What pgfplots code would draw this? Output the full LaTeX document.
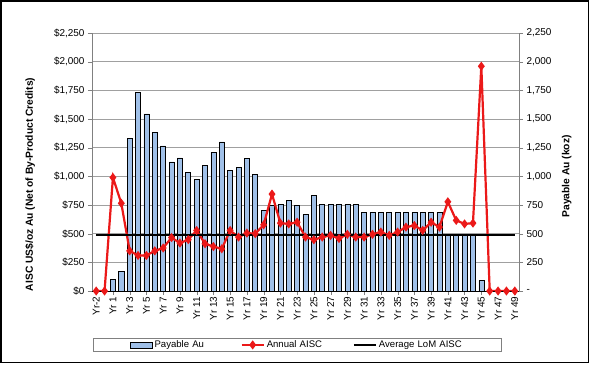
\documentclass[border=0pt]{standalone}
\usepackage{pgfplots}
\pgfplotsset{compat=1.18}
\usepackage{fontspec}
\setmainfont{Liberation Sans}
\definecolor{barblue}{RGB}{160,192,232}
\definecolor{aiscred}{RGB}{235,25,25}
\definecolor{gridgray}{RGB}{160,160,160}
\definecolor{axgray}{RGB}{128,128,128}
\pgfplotsset{
  markleg/.style={legend image code/.code={\draw[##1, mark repeat=2, mark phase=2] plot coordinates {(0bp,0bp) (11bp,0bp) (22bp,0bp)};}},
  lineleg/.style={legend image code/.code={\draw[##1] (0bp,0bp) -- (22bp,0bp);}},
  barleg/.style={legend image code/.code={\draw[fill=barblue, draw=black, line width=0.8bp] (0bp,-3bp) rectangle (22bp,3bp);}},
}
\begin{document}
\begin{tikzpicture}
\path[use as bounding box] (0bp,0bp) rectangle (591bp,366bp);
\draw[line width=1.6bp] (1bp,3.5bp) rectangle (588.5bp,365bp);
% ---- bars on right axis ----
\begin{axis}[
  at={(92bp,75bp)}, anchor=south west,
  width=427bp, height=258bp, scale only axis,
  xmin=-0.5, xmax=50.5, ymin=0, ymax=2250,
  axis x line=none,
  axis y line*=right,
  ytick={0,250,...,2250},
  yticklabels={-,250,500,750,{1,000},{1,250},{1,500},{1,750},{2,000},{2,250}},
  ymajorgrids, grid style={gridgray, line width=0.5bp},
  tick align=outside, major tick length=4bp,
  y axis line style={axgray, line width=0.6bp}, ytick style={axgray},
  /pgf/number format/assume math mode=true,
  tick label style={font=\fontsize{10}{11}\selectfont},
  ylabel={\bfseries Payable Au (koz)},
  ylabel style={at={(axis description cs:1.112,0.444)}, anchor=center, font=\fontsize{10.3}{12}\selectfont},
]
\addplot[ybar, bar width=0.6, fill=barblue, draw=black, line width=0.6bp] coordinates {
(2,100) (3,170) (4,1330) (5,1730) (6,1545) (7,1380) (8,1265) (9,1125) (10,1160)
(11,1035) (12,975) (13,1093) (14,1212) (15,1300) (16,1053) (17,1078) (18,1153)
(19,1015) (20,703) (21,745) (22,755) (23,790) (24,748) (25,667) (26,835)
(27,758) (28,758) (29,758) (30,758) (31,758)
(32,685) (33,685) (34,685) (35,685) (36,685) (37,685) (38,685) (39,685) (40,685) (41,685)
(42,493) (43,493) (44,493) (45,493) (46,90)
};
\end{axis}
% ---- lines on left axis ----
\begin{axis}[
  at={(92bp,75bp)}, anchor=south west,
  width=427bp, height=258bp, scale only axis,
  xmin=-0.5, xmax=50.5, ymin=0, ymax=2250,
  axis y line*=left, axis x line*=bottom,
  x axis line style={black, line width=0.6bp},
  y axis line style={axgray, line width=0.6bp}, ytick style={axgray}, xtick style={axgray},
  tick align=outside, major tick length=4bp,
  xtick={0,2,...,50},
  xticklabels={Yr-2,Yr 1,Yr 3,Yr 5,Yr 7,Yr 9,Yr 11,Yr 13,Yr 15,Yr 17,Yr 19,Yr 21,Yr 23,Yr 25,Yr 27,Yr 29,Yr 31,Yr 33,Yr 35,Yr 37,Yr 39,Yr 41,Yr 43,Yr 45,Yr 47,Yr 49},
  x tick label style={rotate=90, anchor=east, inner sep=1.5bp},
  ytick={0,250,...,2250},
  yticklabels={\$0,\$250,\$500,\$750,{\$1,000},{\$1,250},{\$1,500},{\$1,750},{\$2,000},{\$2,250}},
  /pgf/number format/assume math mode=true,
  tick label style={font=\fontsize{10}{11}\selectfont},
  ylabel={\bfseries AISC US\$/oz Au (Net of By-Product Credits)},
  ylabel style={at={(axis description cs:-0.145,0.413)}, anchor=center, font=\fontsize{10.3}{12}\selectfont},
  legend columns=3,
  legend cell align=left,
  legend style={at={(axis description cs:0.481,-0.209)}, anchor=center,
    draw=axgray, line width=0.6bp, font=\fontsize{9.6}{11}\selectfont,
    inner xsep=36bp, inner ysep=1bp,
    nodes={text width=84bp, inner xsep=2bp, inner ysep=1.5bp, anchor=west}},
]
\addlegendimage{barleg}
\addlegendentry{Payable Au}
\addplot[aiscred, line width=2.2bp, mark=diamond*, mark size=2.8bp, mark options={solid, fill=aiscred}, markleg]
coordinates {
(0,0) (1,0) (2,990) (3,765) (4,350) (5,310) (6,310) (7,350) (8,375) (9,466)
(10,418) (11,448) (12,528) (13,412) (14,388) (15,368) (16,528) (17,470) (18,505)
(19,500) (20,577) (21,845) (22,592) (23,585) (24,600) (25,470) (26,447) (27,470)
(28,485) (29,458) (30,494) (31,470) (32,470) (33,494) (34,514) (35,485) (36,514)
(37,557) (38,571) (39,528) (40,600) (41,557) (42,778) (43,616) (44,585) (45,592)
(46,1960) (47,0) (48,0) (49,0) (50,0)
};
\addlegendentry{Annual AISC}
\addplot[black, line width=2.2bp, mark=none, lineleg]
coordinates {(0,490) (50,490)};
\addlegendentry{Average LoM AISC}
\end{axis}
\end{tikzpicture}
\end{document}
